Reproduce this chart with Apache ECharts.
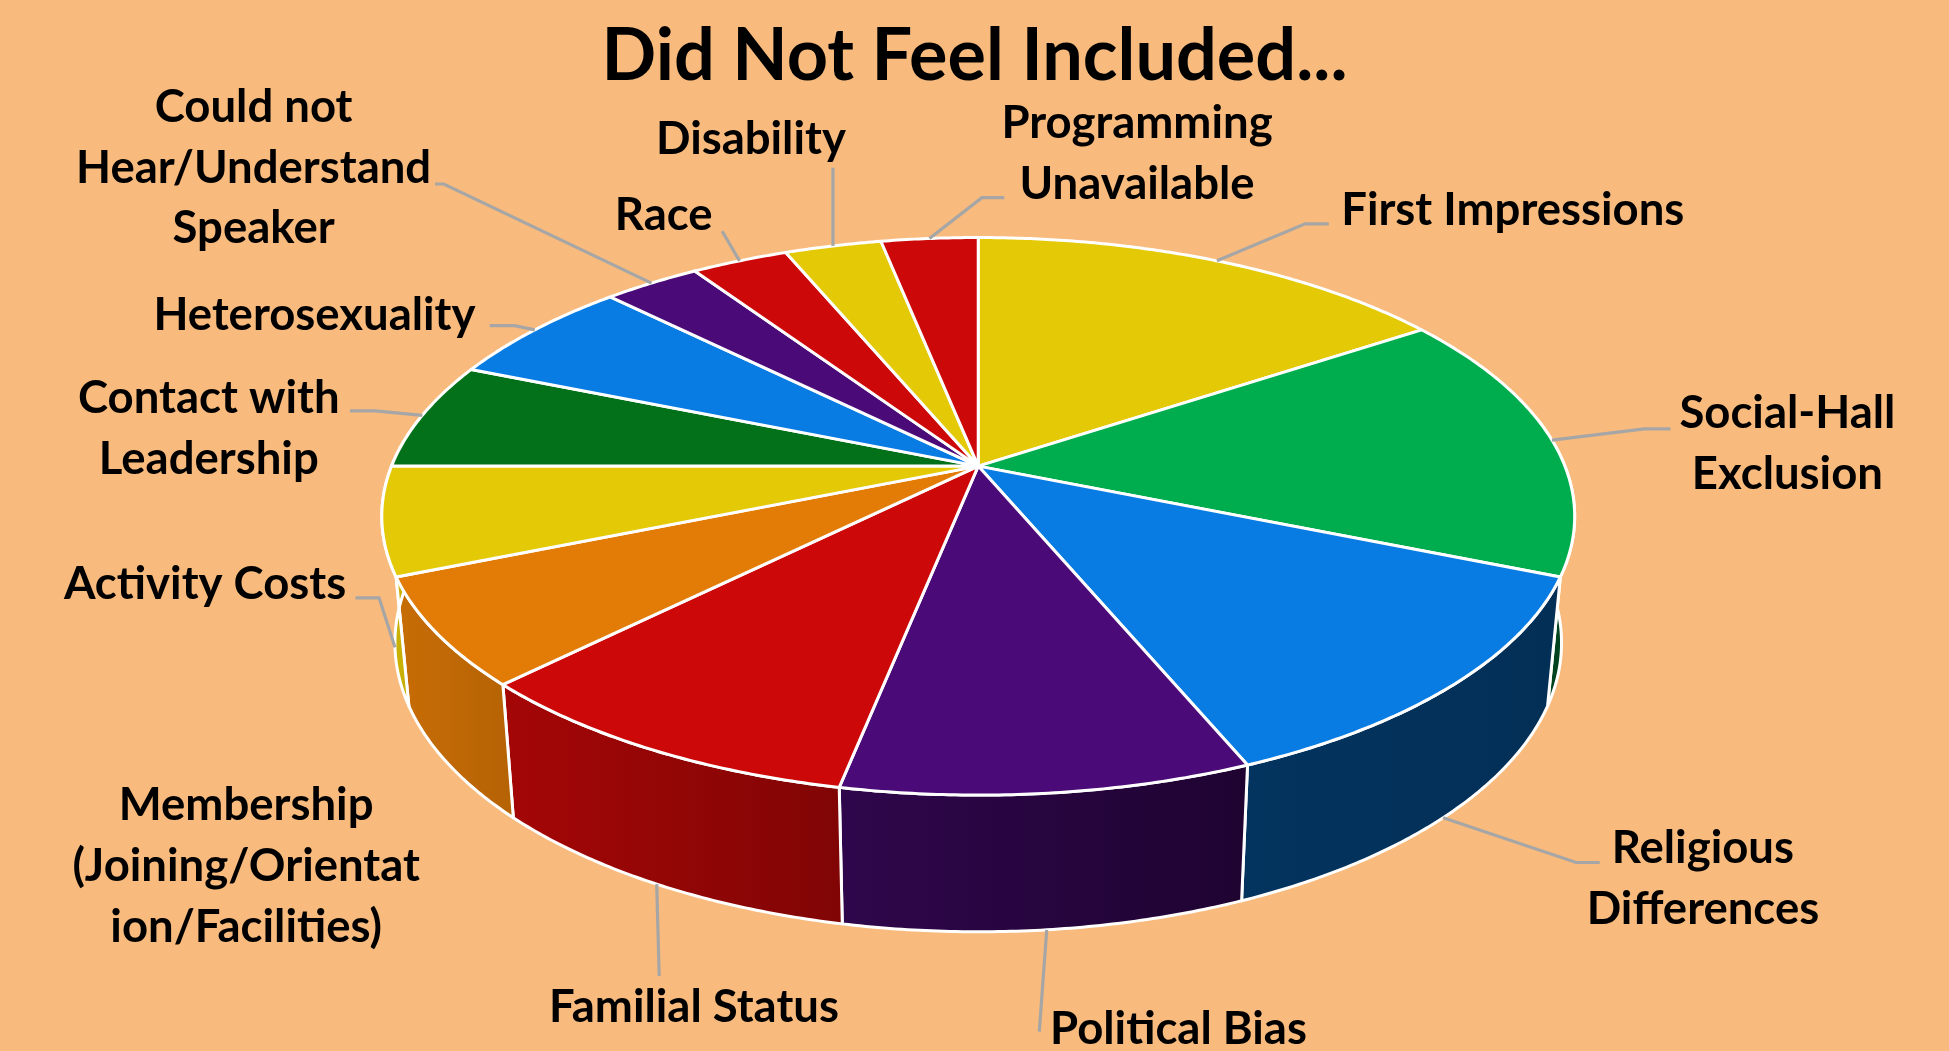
<!DOCTYPE html>
<html><head><meta charset="utf-8">
<script src="https://cdn.jsdelivr.net/npm/echarts@6/dist/echarts.min.js"></script>
<style>html,body{margin:0;padding:0;background:#F8BB7D;overflow:hidden;} #main{width:1949px;height:1051px;}</style>
</head><body><div id="main"></div>
<script>
// ---- data ----
const categories = ['First Impressions','Social-Hall Exclusion','Religious Differences','Political Bias','Familial Status','Membership (Joining/Orientation/Facilities)','Activity Costs','Contact with Leadership','Heterosexuality','Could not Hear/Understand Speaker','Race','Disability','Programming Unavailable'];
const values = [5, 5, 4, 3, 3, 2, 2, 2, 2, 1, 1, 1, 1];
const labelTexts = ['First Impressions','Social-Hall\nExclusion','Religious\nDifferences','Political Bias','Familial Status','Membership\n(Joining/Orientat\nion/Facilities)','Activity Costs','Contact with\nLeadership','Heterosexuality','Could not\nHear/Understand\nSpeaker','Race','Disability','Programming\nUnavailable'];
const colors = ['#E4C906','#00AD4E','#087CE3','#4A0A78','#CD0808','#E37C06','#E4C906','#03701A','#087CE3','#4A0A78','#CD0808','#E4C906','#CD0808'];
const titleText = 'Did Not Feel Included...';

// ---- layout (reference frame 1568 wide) ----
const REF_W = 1568;
const PIE = {cx: 787, cy: 375, rx: 472, ry: 217, persp: 0.18, depth: 100, depthVar: 10, bottomScale: 0.978};
// leader path points and label centres, as offsets from each slice's anchor point
const LEADER = [
  [[71,-29.8],[90,-29.8]],
  [[74.4,-9.1],[95.4,-9.1]],
  [[107,36],[126,36]],
  [[-6,82]],
  [[2,74]],
  [],
  [[-12.8,-39.9],[-31.8,-39.9]],
  [[-37.8,-3.6],[-58.3,-3.6]],
  [[-16.2,-3.4],[-36.2,-3.4]],
  [[-167.1,-79.7],[-174.1,-79.7]],
  [[-14,-23.8]],
  [[0,-62.9]],
  [[42.2,-32.8],[60.2,-32.8]]
];
const LABEL_OFF = [[238,-40.8],[189.4,2.9],[209,49],[106,80],[30,99],[-162.5,82.4],[-152.8,-50.9],[-171.8,10.9],[-177.2,-11.4],[-320.1,-92.7],[-61,-36.8],[-66,-85.9],[167,-67.8]];

function shade(hex, f) {
  const n = parseInt(hex.slice(1), 16);
  const r = Math.round(((n >> 16) & 255) * f), g = Math.round(((n >> 8) & 255) * f), b = Math.round((n & 255) * f);
  return 'rgb(' + r + ',' + g + ',' + b + ')';
}

function rimPoint(theta, k, bottom) {
  const u = Math.sin(theta), v = Math.cos(theta);
  const w = 1 + PIE.persp * v;
  let dx = PIE.rx * u / w, y = PIE.cy - PIE.ry * v / w;
  if (bottom) { dx *= PIE.bottomScale; y += PIE.depth - PIE.depthVar * v; }
  return [(PIE.cx + dx) * k, y * k];
}
function arc(t0, t1, k, bottom) {
  const pts = [];
  const n = Math.max(2, Math.ceil(Math.abs(t1 - t0) / (Math.PI / 360)));
  for (let j = 0; j <= n; j++) pts.push(rimPoint(t0 + (t1 - t0) * j / n, k, bottom));
  return pts;
}

const total = values.reduce((s, v) => s + v, 0);

function renderItem(params, api) {
  const k = api.getWidth() / REF_W;
  const i = params.dataIndex;
  let before = 0;
  for (let j = 0; j < i; j++) before += values[j];
  const t0 = before / total * 2 * Math.PI;
  const t1 = (before + api.value(0)) / total * 2 * Math.PI;
  const children = [];
  // side face
  const lo = 80 * Math.PI / 180, hi = 280 * Math.PI / 180;
  const s = Math.max(t0, lo), e = Math.min(t1, hi);
  if (s < e) {
    const pts = arc(s, e, k, false).concat(arc(e, s, k, true));
    const grad = new echarts.graphic.LinearGradient((PIE.cx - PIE.rx) * k, 0, (PIE.cx + PIE.rx) * k, 0, [
      {offset: 0, color: shade(colors[i], 0.88)},
      {offset: 0.1, color: shade(colors[i], 0.8)},
      {offset: 0.4, color: shade(colors[i], 0.62)},
      {offset: 0.72, color: shade(colors[i], 0.42)},
      {offset: 1, color: shade(colors[i], 0.38)}
    ], true);
    children.push({type: 'polygon', z2: 1, shape: {points: pts}, style: {fill: grad, stroke: '#fff', lineWidth: 3, lineJoin: 'round'}});
  }
  // top face
  const top = [[PIE.cx * k, PIE.cy * k]].concat(arc(t0, t1, k, false));
  children.push({type: 'polygon', z2: 10, shape: {points: top}, style: {fill: colors[i], stroke: '#fff', lineWidth: 3, lineJoin: 'round'}});
  // anchor, leader line, label
  const tm = (t0 + t1) / 2;
  const front = tm > Math.PI / 2 && tm < 3 * Math.PI / 2;
  const anchor = rimPoint(tm, k, front);
  if (LEADER[i].length) {
    const lp = [anchor].concat(LEADER[i].map(p => [anchor[0] + p[0] * k, anchor[1] + p[1] * k]));
    children.push({type: 'polyline', z2: 20, shape: {points: lp}, style: {stroke: '#A6A6A6', lineWidth: 3.2, fill: null}});
  }
  children.push({
    type: 'text', z2: 30,
    x: anchor[0] + LABEL_OFF[i][0] * k, y: anchor[1] + LABEL_OFF[i][1] * k,
    style: {text: labelTexts[i], fill: '#000', fontFamily: 'Lato', fontWeight: 'bold', fontSize: 36.6 * k, lineHeight: 49 * k, align: 'center', verticalAlign: 'middle'}
  });
  return {type: 'group', children: children};
}

const chart = echarts.init(document.getElementById('main'), null, {renderer: 'canvas'});
chart.setOption({
  backgroundColor: '#F8BB7D',
  animation: false,
  title: {text: titleText, left: 'center', top: 16, textStyle: {fontFamily: 'Lato', fontWeight: 'bold', fontSize: 72, color: '#000'}},
  series: [{
    type: 'custom',
    coordinateSystem: 'none',
    renderItem: renderItem,
    data: values.map((v, i) => ({name: categories[i], value: [v]}))
  }]
});
</script></body></html>
